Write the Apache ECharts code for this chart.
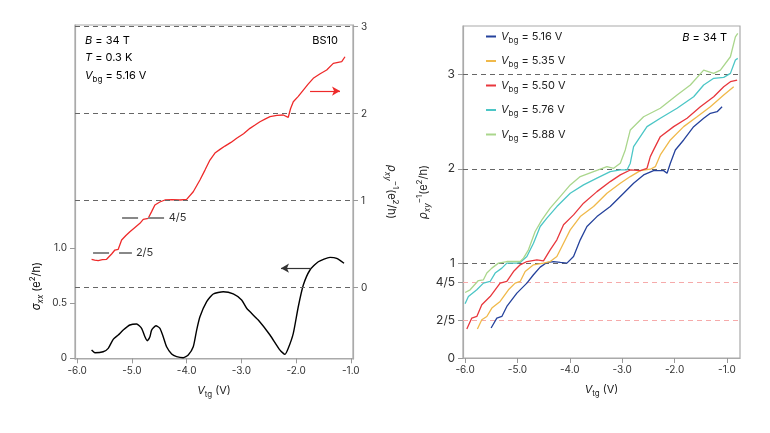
<!DOCTYPE html>
<html><head><meta charset="utf-8">
<script src="https://cdn.jsdelivr.net/npm/echarts@6/dist/echarts.min.js"></script>
<style>html,body{margin:0;padding:0;background:#fff}#c{width:770px;height:433px}</style>
</head><body><div id="c"></div>
<script>
// ---------- DATA ----------
// Left panel: sigma_xx (left axis) and rho_xy^-1 (right axis) vs V_tg at V_bg = 5.16 V
const sigmaXX = [[-5.737,0.075],[-5.676,0.051],[-5.525,0.060],[-5.433,0.091],[-5.342,0.173],[-5.250,0.212],[-5.159,0.257],[-5.037,0.303],[-4.914,0.312],[-4.823,0.273],[-4.762,0.196],[-4.720,0.160],[-4.671,0.196],[-4.640,0.257],[-4.561,0.296],[-4.488,0.273],[-4.428,0.196],[-4.366,0.105],[-4.274,0.039],[-4.183,0.015],[-4.062,0.005],[-3.971,0.030],[-3.879,0.105],[-3.817,0.257],[-3.757,0.378],[-3.634,0.515],[-3.514,0.585],[-3.331,0.605],[-3.148,0.585],[-2.995,0.530],[-2.903,0.455],[-2.691,0.348],[-2.477,0.212],[-2.294,0.075],[-2.203,0.036],[-2.143,0.091],[-2.051,0.227],[-1.960,0.469],[-1.868,0.666],[-1.746,0.803],[-1.594,0.878],[-1.380,0.918],[-1.258,0.909],[-1.124,0.864]];
const rhoInvLeft = [[-5.737,0.326],[-5.680,0.318],[-5.616,0.310],[-5.540,0.322],[-5.463,0.326],[-5.371,0.387],[-5.311,0.433],[-5.250,0.441],[-5.188,0.548],[-5.110,0.600],[-5.037,0.644],[-4.950,0.690],[-4.854,0.740],[-4.793,0.786],[-4.702,0.798],[-4.640,0.874],[-4.580,0.951],[-4.490,0.985],[-4.397,1.008],[-4.260,1.012],[-4.123,1.008],[-4.000,1.016],[-3.879,1.103],[-3.757,1.238],[-3.665,1.352],[-3.574,1.467],[-3.483,1.548],[-3.390,1.590],[-3.300,1.628],[-3.190,1.670],[-3.086,1.717],[-2.960,1.770],[-2.843,1.832],[-2.750,1.870],[-2.660,1.908],[-2.560,1.940],[-2.477,1.966],[-2.350,1.980],[-2.234,1.985],[-2.143,1.959],[-2.100,2.060],[-2.051,2.138],[-1.960,2.200],[-1.868,2.272],[-1.780,2.340],[-1.686,2.407],[-1.560,2.460],[-1.441,2.502],[-1.320,2.579],[-1.166,2.598],[-1.106,2.655]];
// Right panel: rho_xy^-1 vs V_tg for several V_bg
const bgValues = ['5.16','5.35','5.50','5.76','5.88'];
const rho516 = [[-5.503,0.317],[-5.394,0.422],[-5.298,0.439],[-5.203,0.545],[-5.011,0.686],[-4.820,0.792],[-4.694,0.880],[-4.566,0.961],[-4.438,1.009],[-4.312,1.020],[-4.180,1.010],[-4.055,1.003],[-3.929,1.073],[-3.801,1.249],[-3.673,1.390],[-3.482,1.495],[-3.228,1.601],[-2.973,1.742],[-2.782,1.848],[-2.591,1.936],[-2.400,1.981],[-2.208,1.981],[-2.143,1.954],[-2.080,2.059],[-1.985,2.199],[-1.826,2.305],[-1.635,2.446],[-1.444,2.534],[-1.316,2.587],[-1.187,2.604],[-1.092,2.657]];
const rho535 = [[-5.765,0.306],[-5.681,0.404],[-5.585,0.439],[-5.489,0.528],[-5.331,0.598],[-5.172,0.721],[-5.044,0.792],[-4.948,0.809],[-4.853,0.914],[-4.694,0.985],[-4.503,1.003],[-4.375,1.020],[-4.247,1.073],[-4.120,1.214],[-3.992,1.355],[-3.801,1.495],[-3.547,1.601],[-3.291,1.742],[-3.036,1.848],[-2.845,1.918],[-2.654,1.981],[-2.463,1.996],[-2.367,2.023],[-2.272,2.147],[-2.080,2.305],[-1.826,2.446],[-1.570,2.551],[-1.316,2.657],[-1.061,2.780],[-0.870,2.868]];
const rho550 = [[-5.967,0.306],[-5.872,0.422],[-5.776,0.439],[-5.681,0.563],[-5.522,0.650],[-5.331,0.792],[-5.203,0.809],[-5.076,0.914],[-4.948,0.985],[-4.820,1.020],[-4.629,1.038],[-4.503,1.027],[-4.375,1.144],[-4.247,1.249],[-4.120,1.408],[-3.929,1.513],[-3.738,1.637],[-3.482,1.759],[-3.228,1.865],[-3.036,1.936],[-2.845,1.988],[-2.654,1.981],[-2.526,2.006],[-2.463,2.129],[-2.400,2.200],[-2.272,2.340],[-2.017,2.446],[-1.761,2.534],[-1.507,2.657],[-1.252,2.762],[-1.061,2.868],[-0.933,2.921],[-0.805,2.939]];
const rho576 = [[-6.000,0.573],[-5.937,0.650],[-5.776,0.721],[-5.650,0.792],[-5.522,0.809],[-5.426,0.898],[-5.298,0.950],[-5.203,1.003],[-5.011,1.003],[-4.948,1.010],[-4.820,1.073],[-4.694,1.214],[-4.566,1.390],[-4.438,1.478],[-4.247,1.601],[-3.992,1.742],[-3.738,1.830],[-3.482,1.901],[-3.228,1.970],[-3.036,1.988],[-2.908,1.988],[-2.845,2.059],[-2.782,2.234],[-2.526,2.446],[-2.272,2.534],[-1.952,2.640],[-1.635,2.762],[-1.444,2.886],[-1.252,2.957],[-1.061,2.967],[-0.933,3.009],[-0.838,3.150],[-0.793,3.168]];
const rho588 = [[-6.000,0.693],[-5.904,0.721],[-5.746,0.819],[-5.650,0.827],[-5.585,0.898],[-5.489,0.950],[-5.363,1.003],[-5.203,1.020],[-4.948,1.020],[-4.885,1.056],[-4.790,1.144],[-4.662,1.337],[-4.533,1.460],[-4.375,1.584],[-4.184,1.706],[-3.992,1.830],[-3.801,1.918],[-3.547,1.970],[-3.291,2.023],[-3.164,2.006],[-3.036,2.059],[-2.941,2.200],[-2.845,2.411],[-2.591,2.551],[-2.272,2.640],[-1.952,2.780],[-1.698,2.886],[-1.444,3.044],[-1.252,3.009],[-1.124,3.044],[-0.933,3.185],[-0.838,3.396],[-0.793,3.432]];
const rightSeriesData = [rho516, rho535, rho550, rho576, rho588];
// Ticks
const xTicks = [-6, -5, -4, -3, -2, -1];
const sigmaTicks = [0, 0.5, 1.0];
const rhoTicksLeft = [0, 1, 2, 3];
const rhoTicksRight = [0, 0.4, 0.8, 1, 2, 3];
const fracLabels = {0.4: '2/5', 0.8: '4/5'};
const intLines = [0, 1, 2, 3];
const fracLines = [0.4, 0.8];
// fractional markers in left panel: [value, xStart, xEnd, label]
const leftFracMarks = [[0.4, -5.71, -5.0, '2/5'], [0.8, -5.18, -4.4, '4/5']];
const colors = ['#25429c', '#f0b94a', '#e8373d', '#4cc6c6', '#aad68c'];

// ---------- CHART ----------
const FF = 'Inter, "Noto Sans", sans-serif';
const richBase = {
  n: {fontSize: 11, fontFamily: FF, color: '#222', lineHeight: 16, verticalAlign: 'middle'},
  i: {fontSize: 11, fontFamily: FF, color: '#222', fontStyle: 'italic', lineHeight: 16, verticalAlign: 'middle'},
  sub: {fontSize: 8, fontFamily: FF, color: '#222', lineHeight: 9, verticalAlign: 'bottom'},
  subi: {fontSize: 8, fontFamily: FF, color: '#222', fontStyle: 'italic', lineHeight: 9, verticalAlign: 'bottom'},
  sup: {fontSize: 8, fontFamily: FF, color: '#222', lineHeight: 9, verticalAlign: 'top'}
};
const axisLineStyle = {show: true, lineStyle: {color: '#aaa', width: 1.2}};
const tickStyle = {show: true, length: 5, lineStyle: {color: '#999'}};
const labelStyle = {color: '#333', fontSize: 10, fontFamily: FF};

const chart = echarts.init(document.getElementById('c'), null, {renderer: 'canvas'});
const option = {
  animation: false,
  backgroundColor: '#fff',
  grid: [
    {left: 75, top: 25, width: 278, height: 334, show: true, borderColor: '#aaa', borderWidth: 1.2, containLabel: false},
    {left: 463, top: 26, width: 277, height: 332, show: true, borderColor: '#aaa', borderWidth: 1.2, containLabel: false}
  ],
  xAxis: [
    {gridIndex: 0, type: 'value', min: -6.04, max: -0.96, axisLine: axisLineStyle, splitLine: {show: false},
     axisTick: Object.assign({customValues: xTicks}, tickStyle),
     axisLabel: Object.assign({customValues: xTicks, formatter: v => v.toFixed(1), margin: 7}, labelStyle),
     name: '{i|V}{sub|tg}{n| (V)}', nameLocation: 'middle', nameGap: 24, nameTextStyle: {rich: richBase}},
    {gridIndex: 1, type: 'value', min: -6.04, max: -0.75, axisLine: axisLineStyle, splitLine: {show: false},
     axisTick: Object.assign({customValues: xTicks}, tickStyle),
     axisLabel: Object.assign({customValues: xTicks, formatter: v => v.toFixed(1), margin: 7}, labelStyle),
     name: '{i|V}{sub|tg}{n| (V)}', nameLocation: 'middle', nameGap: 24, nameTextStyle: {rich: richBase}}
  ],
  yAxis: [
    {gridIndex: 0, type: 'value', min: -0.006, max: 3.03, position: 'left', axisLine: axisLineStyle, splitLine: {show: false},
     axisTick: Object.assign({customValues: sigmaTicks}, tickStyle),
     axisLabel: Object.assign({customValues: sigmaTicks, formatter: v => v === 0 ? '0' : v.toFixed(1), margin: 8}, labelStyle)},
    {gridIndex: 0, type: 'value', min: -0.82, max: 3.02, position: 'right', axisLine: axisLineStyle, splitLine: {show: false},
     axisTick: Object.assign({customValues: rhoTicksLeft}, tickStyle),
     axisLabel: Object.assign({customValues: rhoTicksLeft, formatter: v => String(v), margin: 8}, labelStyle),
     name: '{i|ρ}{subi|xy}{sup|−1}{n|(e}{sup|2}{n|/h)}', nameLocation: 'middle', nameGap: 30, nameRotate: -90,
     nameTextStyle: {rich: richBase}},
    {gridIndex: 1, type: 'value', min: 0, max: 3.51, position: 'left', axisLine: axisLineStyle, splitLine: {show: false},
     axisTick: Object.assign({customValues: rhoTicksRight}, tickStyle),
     axisLabel: Object.assign({customValues: rhoTicksRight, formatter: v => fracLabels[v] || String(v), margin: 8}, labelStyle, {fontSize: 12}),
     name: '{i|ρ}{subi|xy}{sup|−1}{n|(e}{sup|2}{n|/h)}', nameLocation: 'middle', nameGap: 30, nameRotate: 90,
     nameTextStyle: {rich: richBase}}
  ],
  legend: {
    orient: 'vertical', left: 481, top: 26, itemGap: 11, itemWidth: 10, itemHeight: 2, icon: 'rect',
    data: bgValues.map(v => 'bg' + v),
    formatter: name => '{i|V}{sub|bg}{n| = ' + name.slice(2) + ' V}',
    textStyle: {rich: richBase, padding: [0, 0, 0, 0]}, itemStyle: {borderWidth: 0}
  },
  series: [
    {type: 'line', xAxisIndex: 0, yAxisIndex: 0, data: sigmaXX, showSymbol: false, symbol: 'none', smooth: 0.2,
     lineStyle: {color: '#000', width: 1.4}, z: 3,
     markLine: {silent: true, symbol: ['none', 'arrow'], symbolSize: [7, 8], label: {show: false},
       lineStyle: {color: '#333', width: 1.2, type: 'solid'},
       data: [[{coord: [-1.727, 0.82]}, {coord: [-2.276, 0.82]}]]}},
    {type: 'line', xAxisIndex: 0, yAxisIndex: 1, data: rhoInvLeft, showSymbol: false, symbol: 'none',
     lineStyle: {color: '#ee2a2a', width: 1.3}, z: 3,
     markLine: {silent: true, symbol: ['none', 'none'], label: {show: false}, animation: false,
       data: intLines.map(v => ({yAxis: v, lineStyle: {color: '#666', width: 1, type: [5, 4]}}))
         .concat(leftFracMarks.map(m => [
           {coord: [m[1], m[0]], lineStyle: {color: '#888', width: 2, type: [16, 10]}},
           {coord: [m[2], m[0]], label: {show: true, position: 'end', formatter: m[3], color: '#333', fontSize: 11, fontFamily: FF, distance: 4}}
         ]))
         .concat([[{coord: [-1.745, 2.26], symbol: 'none', lineStyle: {color: '#ee2a2a', width: 1.2, type: 'solid'}},
                   {coord: [-1.197, 2.26], symbol: 'arrow', symbolSize: [7, 8]}]])
     }}
  ].concat(rightSeriesData.map((d, k) => ({
    type: 'line', name: 'bg' + bgValues[k], xAxisIndex: 1, yAxisIndex: 2, data: d, showSymbol: false, symbol: 'none',
    color: colors[k], lineStyle: {color: colors[k], width: 1.3}, z: 3,
    markLine: k === 0 ? {silent: true, symbol: ['none', 'none'], label: {show: false}, z: 1,
      data: intLines.filter(v => v > 0).map(v => ({yAxis: v, lineStyle: {color: '#666', width: 1, type: [5, 4]}}))
        .concat(fracLines.map(v => ({yAxis: v, lineStyle: {color: '#f6aaaa', width: 1, type: [5, 4]}})))} : undefined
  }))),
  graphic: [
    {type: 'text', left: 85, top: 35, style: {text: '{i|B}{n| = 34 T}', rich: richBase}},
    {type: 'text', left: 85, top: 52, style: {text: '{i|T}{n| = 0.3 K}', rich: richBase}},
    {type: 'text', left: 85, top: 70, style: {text: '{i|V}{sub|bg}{n| = 5.16 V}', rich: richBase}},
    {type: 'text', right: 432, top: 35, style: {text: '{n|BS10}', rich: richBase}},
    {type: 'text', right: 43, top: 32, style: {text: '{i|B}{n| = 34 T}', rich: richBase}},
    {type: 'text', left: 29, top: 262, rotation: Math.PI / 2, originX: 0, originY: 0,
     style: {text: '{i|σ}{subi|xx}{n| (e}{sup|2}{n|/h)}', rich: richBase, align: 'center', verticalAlign: 'middle'}}
  ]
};
chart.setOption(option);
</script>
</body></html>
